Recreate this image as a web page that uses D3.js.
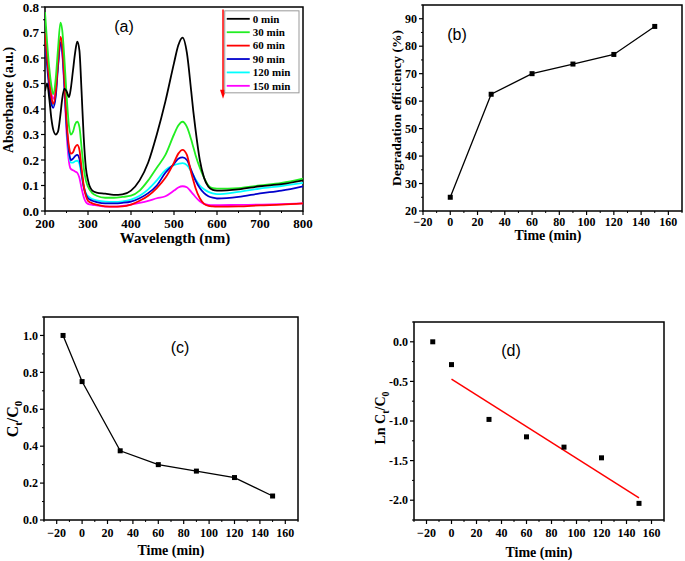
<!DOCTYPE html>
<html><head><meta charset="utf-8">
<script src="https://cdn.jsdelivr.net/npm/d3@7"></script>
<style>body{margin:0;background:#fff}svg{display:block}</style>
</head><body>
<svg id="c" width="685" height="561"></svg>
<script>
// ---------- DATA ----------
const wavelengths = [200,205,210,215,219,225,230,236,240,245,250,256,260,265,270,275,280,285,290,295,300,310,320,340,360,380,400,420,440,460,480,500,510,520,530,540,545,550,560,570,580,590,600,650,700,750,800];
const abs0   = [0.47,0.50,0.44,0.36,0.32,0.30,0.31,0.38,0.44,0.48,0.47,0.447,0.48,0.55,0.62,0.664,0.63,0.47,0.29,0.17,0.12,0.08,0.072,0.068,0.063,0.065,0.08,0.12,0.19,0.30,0.43,0.58,0.65,0.68,0.62,0.47,0.39,0.32,0.20,0.13,0.095,0.083,0.08,0.085,0.097,0.105,0.12];
const abs30  = [0.78,0.66,0.56,0.49,0.458,0.52,0.63,0.739,0.71,0.60,0.46,0.33,0.30,0.31,0.34,0.35,0.33,0.25,0.17,0.12,0.095,0.07,0.06,0.052,0.052,0.055,0.06,0.08,0.12,0.17,0.22,0.30,0.335,0.35,0.33,0.28,0.25,0.22,0.17,0.13,0.10,0.09,0.088,0.09,0.10,0.11,0.127];
const abs60  = [0.70,0.60,0.51,0.445,0.42,0.47,0.58,0.683,0.65,0.52,0.36,0.25,0.225,0.23,0.25,0.259,0.24,0.17,0.10,0.06,0.04,0.03,0.025,0.018,0.017,0.018,0.025,0.04,0.06,0.09,0.13,0.19,0.225,0.24,0.22,0.15,0.12,0.09,0.05,0.028,0.02,0.018,0.017,0.018,0.022,0.025,0.03];
const abs90  = [0.68,0.57,0.48,0.42,0.405,0.45,0.56,0.66,0.63,0.50,0.34,0.23,0.20,0.205,0.215,0.22,0.205,0.15,0.095,0.065,0.05,0.04,0.035,0.03,0.03,0.032,0.037,0.05,0.07,0.10,0.15,0.185,0.205,0.21,0.20,0.16,0.14,0.12,0.09,0.07,0.058,0.052,0.049,0.055,0.069,0.08,0.097];
const abs120 = [0.70,0.59,0.50,0.44,0.415,0.46,0.57,0.665,0.64,0.51,0.34,0.22,0.19,0.19,0.195,0.197,0.185,0.14,0.095,0.07,0.058,0.047,0.042,0.037,0.036,0.038,0.045,0.06,0.085,0.12,0.16,0.18,0.185,0.188,0.18,0.155,0.14,0.125,0.10,0.085,0.075,0.069,0.066,0.075,0.088,0.098,0.11];
const abs150 = [0.70,0.60,0.51,0.46,0.44,0.48,0.57,0.656,0.62,0.48,0.31,0.19,0.165,0.16,0.155,0.15,0.13,0.09,0.055,0.035,0.028,0.024,0.022,0.017,0.017,0.02,0.025,0.032,0.04,0.05,0.058,0.08,0.092,0.097,0.093,0.075,0.065,0.055,0.038,0.028,0.024,0.023,0.023,0.024,0.025,0.027,0.03];
const spectraLabels = ["0 min","30 min","60 min","90 min","120 min","150 min"];
const spectraColors = ["#000000","#22ee22","#ff0000","#0000cc","#00ffff","#ff00ff"];

const timeB = [0,30,60,90,120,150];
const degEff = [25,62.5,70,73.5,77,87.2];

const timeC = [-15,0,30,60,90,120,150];
const ctc0 = [1.0,0.75,0.375,0.30,0.265,0.23,0.13];

const timeD = [-15,0,30,60,90,120,150];
const lnCtC0 = [0,-0.288,-0.98,-1.20,-1.33,-1.465,-2.04];
const fitT = [0,150];
const fitV = [-0.47,-1.97];

// ---------- HELPERS ----------
const svg = d3.select("#c");
const SERIF = "'Liberation Serif','Times New Roman',serif";
const SANS = "'Liberation Sans',Arial,sans-serif";

function panel(o){
  const g = svg.append("g");
  const x = d3.scaleLinear().domain(o.xd).range([o.l,o.r]);
  const y = d3.scaleLinear().domain(o.yd).range([o.b,o.t]);
  const ax = g.append("g");
  o.xMinor.forEach(v=>ax.append("line").attr("x1",x(v)).attr("x2",x(v)).attr("y1",o.b).attr("y2",o.b+2).attr("stroke","#000").attr("stroke-width",1));
  o.yMinor.forEach(v=>ax.append("line").attr("y1",y(v)).attr("y2",y(v)).attr("x1",o.l).attr("x2",o.l-2).attr("stroke","#000").attr("stroke-width",1));
  o.xMajor.forEach(v=>{
    ax.append("line").attr("x1",x(v)).attr("x2",x(v)).attr("y1",o.b).attr("y2",o.b+4).attr("stroke","#000").attr("stroke-width",1.2);
    ax.append("text").attr("x",x(v)).attr("y",o.b+o.xlOff).attr("text-anchor","middle")
      .attr("font-family",SERIF).attr("font-weight","bold").attr("font-size",o.fs).text(o.xf(v));
  });
  o.yMajor.forEach(v=>{
    ax.append("line").attr("y1",y(v)).attr("y2",y(v)).attr("x1",o.l).attr("x2",o.l-4).attr("stroke","#000").attr("stroke-width",1.2);
    ax.append("text").attr("x",o.l-6).attr("y",y(v)).attr("dy","0.35em").attr("text-anchor","end")
      .attr("font-family",SERIF).attr("font-weight","bold").attr("font-size",o.fs).text(o.yf(v));
  });
  g.append("rect").attr("x",o.l).attr("y",o.t).attr("width",o.r-o.l).attr("height",o.b-o.t)
    .attr("fill","none").attr("stroke","#000").attr("stroke-width",1.5);
  g.append("text").attr("x",o.xtX).attr("y",o.xtY).attr("text-anchor","middle")
    .attr("font-family",SERIF).attr("font-weight","bold").attr("font-size",o.tfs).text(o.xTitle);
  const yt = g.append("text").attr("transform",`translate(${o.ytX},${o.ytY}) rotate(-90)`).attr("text-anchor","middle")
    .attr("font-family",SERIF).attr("font-weight","bold").attr("font-size",o.ytfs||o.tfs);
  o.yTitle(yt);
  g.append("text").attr("x",o.plX).attr("y",o.plY).attr("text-anchor","middle")
    .attr("font-family",SANS).attr("font-size",16).text(o.pl);
  return {g,x,y};
}
const rng = (a,b,s)=>d3.range(a,b+s/2,s);

// ---------- PANEL A ----------
const A = panel({l:45,r:303,t:7,b:211,xd:[200,800],yd:[0,0.8],
  xMajor:rng(200,800,100),xMinor:rng(250,750,100),yMajor:rng(0,0.8,0.1),yMinor:rng(0.05,0.75,0.1),
  xf:d3.format("d"),yf:d3.format(".1f"),fs:13,xlOff:17,
  xTitle:"Wavelength (nm)",xtX:175,xtY:243,tfs:15,
  yTitle:t=>t.text("Absorbance (a.u.)"),ytX:13,ytY:100,ytfs:14,
  pl:"(a)",plX:124,plY:32});
const series = [abs0,abs30,abs60,abs90,abs120,abs150];
const lineA = d3.line().x((d,i)=>A.x(wavelengths[i])).y(d=>A.y(d)).curve(d3.curveMonotoneX);
svg.append("clipPath").attr("id","clipA").append("rect").attr("x",45).attr("y",7).attr("width",258).attr("height",204);
[5,4,3,2,1,0].forEach(k=>{
  A.g.append("path").attr("d",lineA(series[k])).attr("fill","none").attr("stroke",spectraColors[k])
    .attr("stroke-width",1.8).attr("clip-path","url(#clipA)");
});
// arrow
const axA = A.x(614), ay1 = A.y(0.79), ay2 = A.y(0.44);
A.g.append("line").attr("x1",axA).attr("x2",axA).attr("y1",ay1).attr("y2",ay2-6).attr("stroke","#ff0000").attr("stroke-width",1.5);
A.g.append("path").attr("d",`M${axA-3},${ay2-9}L${axA+3},${ay2-9}L${axA},${ay2}Z`).attr("fill","#ff0000");
// legend
const lg = A.g.append("g");
const lgX = A.x(618), lgY = A.y(0.785);
lg.append("rect").attr("x",lgX).attr("y",lgY).attr("width",299-lgX).attr("height",82).attr("fill","#fff").attr("stroke","#999").attr("stroke-width",1);
spectraLabels.forEach((s,i)=>{
  const yy = lgY+8+i*13.4;
  lg.append("line").attr("x1",lgX+2).attr("x2",lgX+25).attr("y1",yy).attr("y2",yy).attr("stroke",spectraColors[i]).attr("stroke-width",1.8);
  lg.append("text").attr("x",lgX+28).attr("y",yy).attr("dy","0.35em").attr("font-family",SERIF).attr("font-weight","bold").attr("font-size",11).text(s);
});

// ---------- PANEL B ----------
const B = panel({l:423,r:682,t:5,b:211,xd:[-20,170],yd:[20,95],
  xMajor:rng(-20,160,20),xMinor:rng(-10,170,20),yMajor:rng(20,90,10),yMinor:rng(25,95,10),
  xf:d3.format("d"),yf:d3.format("d"),fs:12,xlOff:15,
  xTitle:"Time (min)",xtX:548,xtY:240,tfs:14,
  yTitle:t=>t.text("Degradation efficiency (%)"),ytX:401,ytY:108,ytfs:13.5,
  pl:"(b)",plX:457,plY:40});
B.g.append("path").attr("d",d3.line().x((d,i)=>B.x(timeB[i])).y(d=>B.y(d))(degEff)).attr("fill","none").attr("stroke","#000").attr("stroke-width",1.3);
timeB.forEach((t,i)=>B.g.append("rect").attr("x",B.x(t)-2.5).attr("y",B.y(degEff[i])-2.5).attr("width",5).attr("height",5).attr("fill","#000"));

// ---------- PANEL C ----------
const C = panel({l:44,r:298,t:317,b:520,xd:[-30,170],yd:[0,1.1],
  xMajor:rng(-20,160,20),xMinor:rng(-30,170,20),yMajor:rng(0,1.0,0.2),yMinor:rng(0.1,1.1,0.2),
  xf:d3.format("d"),yf:d3.format(".1f"),fs:12,xlOff:17,
  xTitle:"Time (min)",xtX:171,xtY:555,tfs:14,
  yTitle:t=>{t.append("tspan").text("C");t.append("tspan").attr("font-size",11).attr("dy",4).text("t");
    t.append("tspan").attr("dy",-4).text("/C");t.append("tspan").attr("font-size",11).attr("dy",4).text("0");},
  ytX:18,ytY:419,ytfs:16,
  pl:"(c)",plX:180,plY:353});
C.g.append("path").attr("d",d3.line().x((d,i)=>C.x(timeC[i])).y(d=>C.y(d))(ctc0)).attr("fill","none").attr("stroke","#000").attr("stroke-width",1.3);
timeC.forEach((t,i)=>C.g.append("rect").attr("x",C.x(t)-2.5).attr("y",C.y(ctc0[i])-2.5).attr("width",5).attr("height",5).attr("fill","#000"));

// ---------- PANEL D ----------
const D = panel({l:414,r:664,t:322,b:520,xd:[-30,170],yd:[-2.25,0.25],
  xMajor:rng(-20,160,20),xMinor:rng(-30,170,20),yMajor:rng(-2.0,0,0.5),yMinor:rng(-2.25,0.25,0.5),
  xf:d3.format("d"),yf:v=>d3.format(".1f")(v).replace("−","-"),fs:12,xlOff:17,
  xTitle:"Time (min)",xtX:539,xtY:557,tfs:14,
  yTitle:t=>{t.append("tspan").text("Ln C");t.append("tspan").attr("font-size",10).attr("dy",4).text("t");
    t.append("tspan").attr("dy",-4).text("/C");t.append("tspan").attr("font-size",10).attr("dy",4).text("0");},
  ytX:385,ytY:418,ytfs:14,
  pl:"(d)",plX:511,plY:356});
D.g.append("path").attr("d",d3.line().x((d,i)=>D.x(fitT[i])).y(d=>D.y(d))(fitV)).attr("fill","none").attr("stroke","#ff0000").attr("stroke-width",1.5);
timeD.forEach((t,i)=>D.g.append("rect").attr("x",D.x(t)-2.5).attr("y",D.y(lnCtC0[i])-2.5).attr("width",5).attr("height",5).attr("fill","#000"));
</script>
</body></html>
